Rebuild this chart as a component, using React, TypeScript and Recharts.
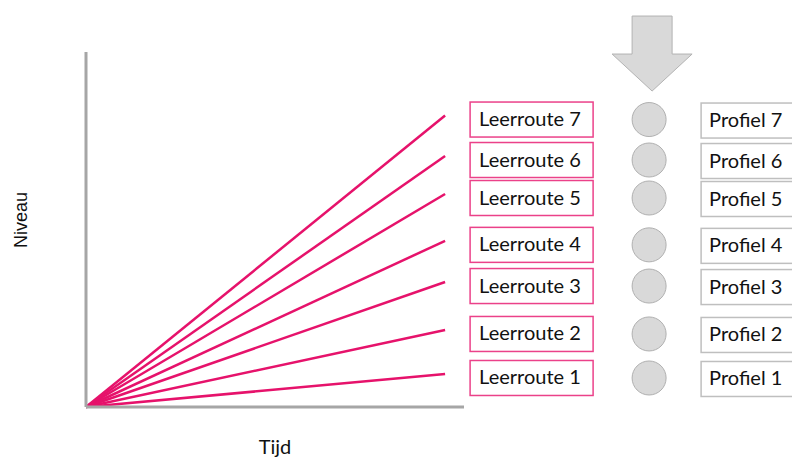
import React from 'react';
import { LineChart, Line, XAxis, YAxis } from 'recharts';

// Leerroutes: niveau aan het eind van de tijd-as (0-100)
const routes = ['Leerroute 1', 'Leerroute 2', 'Leerroute 3', 'Leerroute 4', 'Leerroute 5', 'Leerroute 6', 'Leerroute 7'];
const profiles = ['Profiel 1', 'Profiel 2', 'Profiel 3', 'Profiel 4', 'Profiel 5', 'Profiel 6', 'Profiel 7'];
const startLevels = [0, 0, 0, 0, 0, 0, 0];
const endLevels = [9.3, 21.7, 35.2, 46.8, 60.0, 70.7, 82.1];
const times = [0, 95];

const PINK = '#e6126b';

const data = times.map((t, i) => {
  const row: any = { t };
  routes.forEach((_, k) => {
    row['r' + k] = i === 0 ? startLevels[k] : endLevels[k];
  });
  return row;
});

function RowLabel(k: number) {
  return (props: any) => {
    const { cx, cy, index } = props;
    if (index !== times.length - 1) return <g key={'d' + k + index} />;
    const boxY = cy + 4;
    const circX = cx + 204;
    const circY = cy + 4;
    const isTop = k === routes.length - 1;
    const ax = circX + 3;
    return (
      <g key={'d' + k + index}>
        <rect x={cx + 25} y={boxY - 17.5} width={123} height={35} fill="#fff" stroke={PINK} strokeOpacity={0.8} strokeWidth={1.5} />
        <text x={cx + 34} y={boxY + 6.5} fontFamily="Lato" fontSize={20} fill="#111">{routes[k]}</text>
        <circle cx={circX} cy={circY} r={17} fill="#d9d9d9" stroke="#b0b0b0" strokeWidth={1} />
        <rect x={cx + 256} y={boxY + 1 - 17.5} width={110} height={35} fill="#fff" stroke="#bfbfbf" strokeWidth={1.5} />
        <text x={cx + 264} y={boxY + 7.5} fontFamily="Lato" fontSize={20} fill="#111">{profiles[k]}</text>
        {isTop && (
          <polygon
            points={`${ax - 20},${circY - 103.5} ${ax + 20},${circY - 103.5} ${ax + 20},${circY - 65.5} ${ax + 40},${circY - 65.5} ${ax},${circY - 28.5} ${ax - 40},${circY - 65.5} ${ax - 20},${circY - 65.5}`}
            fill="#d9d9d9"
            stroke="#b3b3b3"
            strokeWidth={1}
          />
        )}
      </g>
    );
  };
}

const NiveauLabel = (props: any) => {
  const vb = props.viewBox || { x: 0, y: 52, width: 86, height: 355 };
  const x = vb.x + 21;
  const y = vb.y + vb.height / 2 - 9.5;
  return (
    <text
      x={x}
      y={y}
      transform={`rotate(-90 ${x} ${y})`}
      textAnchor="middle"
      dominantBaseline="central"
      fontFamily="Liberation Sans"
      fontSize={18}
      fill="#111"
    >
      Niveau
    </text>
  );
};

export default function App() {
  return (
    <div style={{ position: 'absolute', left: 0, top: 0, width: 792, height: 459, background: '#fff' }}>
      <LineChart width={792} height={459} data={data} margin={{ top: 52, right: 328, bottom: 0, left: 0 }}>
        <XAxis
          dataKey="t"
          type="number"
          domain={[0, 100]}
          tick={false}
          tickLine={false}
          height={52}
          axisLine={{ stroke: '#a6a6a6', strokeWidth: 3 }}
          label={{ value: 'Tijd', position: 'insideBottom', offset: 5, fill: '#111', fontSize: 20, fontFamily: 'Lato' }}
        />
        <YAxis
          type="number"
          domain={[0, 100]}
          tick={false}
          tickLine={false}
          width={86}
          axisLine={{ stroke: '#a6a6a6', strokeWidth: 3 }}
          label={<NiveauLabel />}
        />
        {routes.map((name, k) => (
          <Line
            key={name}
            dataKey={'r' + k}
            name={name}
            type="linear"
            stroke={PINK}
            strokeWidth={2.5}
            dot={RowLabel(k)}
            activeDot={false}
            isAnimationActive={false}
          />
        ))}
      </LineChart>
    </div>
  );
}
